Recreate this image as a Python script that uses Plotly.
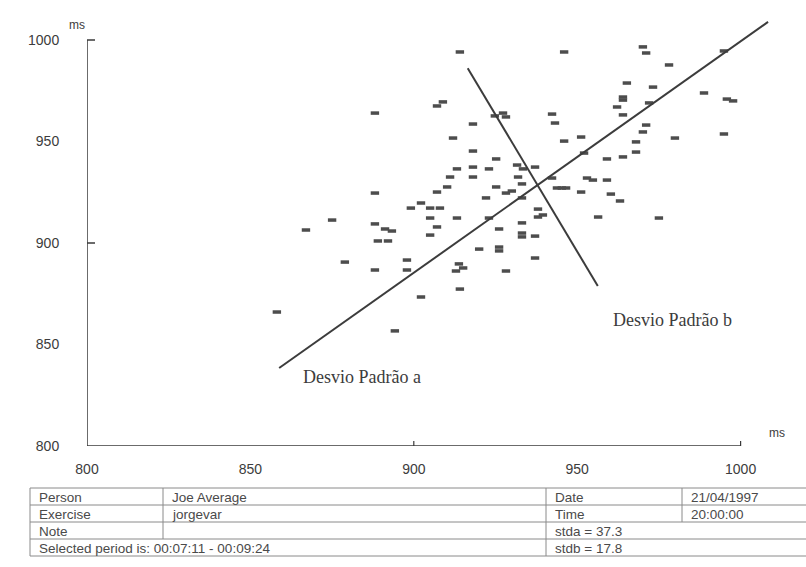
import plotly.graph_objects as go

# ---------------- data (RR interval n vs RR interval n+1, ms) ----------------
rr_n = [914.1, 946.0, 970.1, 971.1, 978.1, 994.9, 965.2, 973.2, 988.8, 995.8,
        997.7, 907.1, 908.9, 964.0, 964.0, 962.2, 972.0, 964.0, 924.8, 927.3,
        928.2, 942.3, 943.2, 918.1, 971.1, 970.1, 912.0, 946.0, 951.2, 979.9,
        994.9, 968.0, 968.0, 918.1, 925.2, 952.1, 959.1, 964.0, 913.2, 918.1,
        918.1, 923.0, 911.1, 931.6, 933.4, 937.1, 931.9, 933.1, 942.3, 953.0,
        954.8, 959.1, 910.2, 907.1, 925.2, 928.2, 930.0, 943.8, 945.3, 946.6,
        951.2, 960.3, 963.1, 922.1, 933.1, 899.1, 902.2, 905.0, 908.0, 905.0,
        913.2, 907.1, 905.0, 923.0, 926.1, 933.1, 933.1, 933.1, 937.1, 938.0,
        938.0, 939.5, 956.4, 975.0, 920.0, 926.1, 926.1, 888.1, 888.1, 875.0,
        867.0, 888.1, 891.2, 893.3, 889.0, 892.1, 878.9, 888.1, 897.9, 897.9,
        913.8, 915.1, 912.9, 937.1, 928.2, 914.1, 902.2, 858.1, 894.2]
rr_n1 = [994.1, 994.1, 996.6, 993.6, 987.7, 994.6, 978.8, 976.8, 973.9, 970.9,
         970.0, 967.5, 969.5, 971.9, 970.4, 967.0, 969.0, 963.1, 962.6, 964.0,
         962.1, 963.5, 959.1, 958.6, 958.1, 954.7, 951.7, 950.2, 952.2, 951.7,
         953.7, 949.8, 944.8, 945.3, 941.4, 944.3, 941.4, 942.4, 936.5, 937.4,
         932.5, 936.5, 932.5, 938.4, 936.5, 937.4, 932.5, 929.1, 932.0, 932.0,
         931.0, 931.0, 927.6, 925.1, 927.6, 924.6, 925.6, 927.1, 927.1, 927.1,
         925.1, 924.1, 920.7, 922.2, 922.2, 917.2, 919.7, 917.2, 917.2, 912.3,
         912.3, 907.9, 903.9, 912.3, 906.9, 909.9, 904.9, 903.0, 903.4, 916.7,
         912.8, 913.8, 912.8, 912.3, 897.0, 898.0, 896.1, 964.0, 924.6, 911.3,
         906.4, 909.4, 906.9, 905.9, 901.0, 901.0, 890.6, 886.7, 891.6, 886.7,
         889.7, 887.7, 886.2, 892.6, 886.2, 877.3, 873.4, 866.0, 856.7]

# principal axes of the cloud
axis_a_x = [858.8, 1008.4]
axis_a_y = [838.4, 1008.9]
axis_b_x = [916.5, 956.3]
axis_b_y = [986.1, 878.8]
label_a = "Desvio Padrão a"
label_b = "Desvio Padrão b"
label_a_pos = [884.1, 834.0]
label_b_pos = [979.3, 862.1]

tick_vals = [800, 850, 900, 950, 1000]
tick_text = ["800", "850", "900", "950", "1000"]
major_marks = [900, 1000]

table_rows = [
    ["Person", "Joe Average", "Date", "21/04/1997"],
    ["Exercise", "jorgevar", "Time", "20:00:00"],
    ["Note", "", "stda = 37.3", ""],
    ["Selected period is: 00:07:11 - 00:09:24", "", "stdb = 17.8", ""],
]

# ---------------- layout geometry ----------------
W, H = 806, 567
L, T = 87, 0
PW, PH = 719, 446
XPX = 3.268   # px per ms on x
YPX = 2.03    # px per ms on y
x_range = [800, 800 + PW / XPX]
y_range = [800, 800 + PH / YPX]

AX_COL = "#3a3a3a"
TXT_COL = "#3c3c3c"
GRID_COL = "#8a8a8a"


def pxx(px):
    return (px - L) / PW


def pxy(py):
    return (T + PH - py) / PH


fig = go.Figure()

fig.add_trace(go.Scatter(
    x=rr_n, y=rr_n1, mode="markers",
    marker=dict(symbol="line-ew", size=6,
                line=dict(width=3.5, color="#4d4d4d")),
    hoverinfo="x+y", showlegend=False))

for xs, ys in [(axis_a_x, axis_a_y), (axis_b_x, axis_b_y)]:
    fig.add_trace(go.Scatter(x=xs, y=ys, mode="lines",
                             line=dict(color="#3c3c3c", width=2),
                             hoverinfo="skip", showlegend=False))

shapes = []
# axis lines
shapes.append(dict(type="line", xref="x", yref="y", x0=800, x1=800,
                   y0=800, y1=1000, line=dict(color=AX_COL, width=1.5)))
shapes.append(dict(type="line", xref="x", yref="y", x0=800, x1=1000,
                   y0=800, y1=800, line=dict(color=AX_COL, width=1.5)))
# crossing tick marks
for v in major_marks:
    shapes.append(dict(type="line", xref="x", yref="y",
                       x0=800 - 8 / XPX, x1=800 + 8 / XPX, y0=v, y1=v,
                       line=dict(color=AX_COL, width=1.5)))
    shapes.append(dict(type="line", xref="x", yref="y",
                       x0=v, x1=v, y0=800 - 5 / YPX, y1=800 + 5 / YPX,
                       line=dict(color=AX_COL, width=1.2)))

# table grid
row_lines = [488, 505, 522, 539, 556]
tbl_left, tbl_right = 30, 806
col_x = [30, 163, 546, 682]
for py in row_lines:
    shapes.append(dict(type="line", xref="paper", yref="paper",
                       x0=pxx(tbl_left), x1=pxx(tbl_right), y0=pxy(py), y1=pxy(py),
                       line=dict(color=GRID_COL, width=1)))
vert = [(30, 488, 556), (163, 488, 539), (546, 488, 556), (682, 488, 522)]
for cx, a, b in vert:
    shapes.append(dict(type="line", xref="paper", yref="paper",
                       x0=pxx(cx), x1=pxx(cx), y0=pxy(a), y1=pxy(b),
                       line=dict(color=GRID_COL, width=1)))

annotations = []
annotations.append(dict(x=label_a_pos[0], y=label_a_pos[1], xref="x", yref="y",
                        text=label_a, showarrow=False,
                        font=dict(family="Liberation Serif", size=18, color=TXT_COL)))
annotations.append(dict(x=label_b_pos[0], y=label_b_pos[1], xref="x", yref="y",
                        text=label_b, showarrow=False,
                        font=dict(family="Liberation Serif", size=18, color=TXT_COL)))
# unit labels
annotations.append(dict(x=pxx(67), y=pxy(16), xref="paper", yref="paper", text="ms",
                        showarrow=False,
                        font=dict(family="Liberation Sans", size=12, color=TXT_COL)))
annotations.append(dict(x=pxx(787), y=pxy(442), xref="paper", yref="paper", text="ms",
                        showarrow=False,
                        font=dict(family="Liberation Sans", size=12, color=TXT_COL)))

# table text
row_centers = [497, 514, 531, 548]
for r, row in enumerate(table_rows):
    for c, txt in enumerate(row):
        if not txt:
            continue
        annotations.append(dict(x=pxx(col_x[c] + 7), y=pxy(row_centers[r]),
                                xref="paper", yref="paper", text=txt,
                                xanchor="left", yanchor="middle", showarrow=False,
                                font=dict(family="Liberation Sans", size=13.5,
                                          color="#4a4a4a")))

fig.update_layout(
    width=W, height=H,
    margin=dict(l=L, r=W - L - PW, t=T, b=H - T - PH, pad=0),
    paper_bgcolor="white", plot_bgcolor="white",
    shapes=shapes, annotations=annotations,
    xaxis=dict(range=x_range, showgrid=False, zeroline=False, showline=False,
               tickmode="array", tickvals=tick_vals, ticktext=tick_text,
               ticks="outside", ticklen=10, tickcolor="rgba(0,0,0,0)",
               tickfont=dict(family="Liberation Sans", size=14, color=TXT_COL)),
    yaxis=dict(range=y_range, showgrid=False, zeroline=False, showline=False,
               tickmode="array", tickvals=tick_vals, ticktext=tick_text,
               ticks="outside", ticklen=24, tickcolor="rgba(0,0,0,0)",
               tickfont=dict(family="Liberation Sans", size=14, color=TXT_COL)),
)

fig.write_html("out.html")
